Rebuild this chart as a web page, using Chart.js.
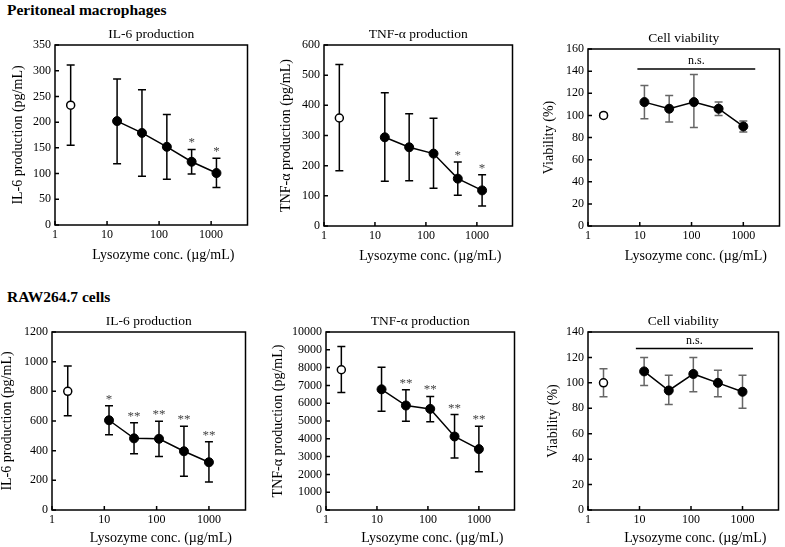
<!DOCTYPE html>
<html lang="en">
<head>
<meta charset="UTF-8">
<title>Lysozyme and cytokine production</title>
<script src="https://cdn.jsdelivr.net/npm/chart.js"></script>
<style>
  body { margin: 0; width: 785px; height: 547px; background: #fff; position: relative; overflow: hidden; }
  canvas { position: absolute; }
  .hdr { position: absolute; left: 7px; font: bold 15.5px "Liberation Serif", serif; color: #000; }
</style>
</head>
<body>
<div class="hdr" style="top:1px">Peritoneal macrophages</div>
<div class="hdr" style="top:288px">RAW264.7 cells</div>

<script>
// ---- data ----
const xTicks = [1, 10, 100, 1000];
const ctrlConc = 2;  // untreated control, open circle

// peritoneal macrophages
const pmConc = [15.6, 46.9, 141, 422, 1266];
const pmIl6Ctrl = [233, 155, 311];          // mean, low, high
const pmIl6Mean = [202, 179, 152, 123, 101];
const pmIl6Lo   = [119, 95, 89, 99, 73];
const pmIl6Hi   = [284, 263, 215, 147, 130];
const pmIl6Sig  = ['', '', '', '*', '*'];

const pmTnfCtrl = [358, 183, 535];
const pmTnfMean = [294, 261, 240, 157, 118];
const pmTnfLo   = [148, 150, 125, 102, 66];
const pmTnfHi   = [442, 372, 357, 212, 170];
const pmTnfSig  = ['', '', '', '*', '*'];

const viaConc = [12.3, 37, 111, 333, 1000];
const pmViaCtrl = [100, 98, 102];
const pmViaMean = [112, 106, 112, 106, 90];
const pmViaLo   = [97, 94, 89, 100, 85];
const pmViaHi   = [127, 118, 137, 112, 95];
const pmViaNs   = [9, 1700, 142];            // from, to, level

// RAW264.7
const rawConc = [12.3, 37, 111, 333, 1000];
const rawIl6Ctrl = [800, 635, 970];
const rawIl6Mean = [605, 483, 480, 396, 322];
const rawIl6Lo   = [508, 380, 360, 228, 188];
const rawIl6Hi   = [702, 588, 598, 565, 460];
const rawIl6Sig  = ['*', '**', '**', '**', '**'];

const rawTnfCtrl = [7880, 6600, 9180];
const rawTnfMean = [6780, 5870, 5680, 4130, 3420];
const rawTnfLo   = [5550, 4980, 4960, 2920, 2150];
const rawTnfHi   = [8020, 6760, 6380, 5360, 4700];
const rawTnfSig  = ['', '**', '**', '**', '**'];

const rawViaCtrl = [100, 89, 111];
const rawViaMean = [109, 94, 107, 100, 93];
const rawViaLo   = [98, 83, 93, 89, 80];
const rawViaHi   = [120, 106, 120, 110, 106];
const rawViaNs   = [8.5, 1600, 127];

const FONT = '"Liberation Serif", "Times New Roman", serif';
const YW = 60, PT = 40, XH = 40, PR = 4;

// titles, error bars, frame, inward ticks, asterisks, n.s. bar
const decor = {
  id: 'decor',
  beforeDatasetsDraw(chart, args, o) {
    const ctx = chart.ctx, ys = chart.scales.y;
    ctx.save();
    ctx.strokeStyle = o.barColor;
    ctx.lineWidth = 1.5;
    chart.data.datasets.forEach((ds, i) => {
      const pts = chart.getDatasetMeta(i).data;
      ds.lo.forEach((v, j) => {
        const x = pts[j].x, a = ys.getPixelForValue(v), b = ys.getPixelForValue(ds.hi[j]);
        ctx.beginPath();
        ctx.moveTo(x, a); ctx.lineTo(x, b);
        ctx.moveTo(x - 4, a); ctx.lineTo(x + 4, a);
        ctx.moveTo(x - 4, b); ctx.lineTo(x + 4, b);
        ctx.stroke();
      });
    });
    ctx.restore();
  },
  afterDraw(chart, args, o) {
    const ctx = chart.ctx, ca = chart.chartArea, xs = chart.scales.x, ys = chart.scales.y;
    const cx = (ca.left + ca.right) / 2;
    ctx.save();

    ctx.fillStyle = '#000';
    ctx.textAlign = 'center';
    ctx.textBaseline = 'middle';
    ctx.font = '13.5px ' + FONT;
    ctx.fillText(o.title, cx, ca.top - 11);
    ctx.font = '14px ' + FONT;
    ctx.fillText('Lysozyme conc. (\u00b5g/mL)', cx + 12, ca.bottom + o.xTitleDy);

    ctx.strokeStyle = '#000';
    ctx.lineWidth = 1.5;
    ctx.strokeRect(ca.left, ca.top, ca.right - ca.left, ca.bottom - ca.top);
    ctx.beginPath();
    ys.ticks.forEach(t => {
      const y = ys.getPixelForValue(t.value);
      ctx.moveTo(ca.left, y); ctx.lineTo(ca.left + 4, y);
    });
    xs.ticks.forEach(t => {
      const x = xs.getPixelForValue(t.value);
      ctx.moveTo(x, ca.bottom); ctx.lineTo(x, ca.bottom - 4);
    });
    ctx.stroke();

    const ds = chart.data.datasets[1];
    const pts = chart.getDatasetMeta(1).data;
    ctx.fillStyle = '#444';
    ctx.font = '13px ' + FONT;
    ctx.textBaseline = 'alphabetic';
    (ds.sig || []).forEach((s, j) => {
      if (s) ctx.fillText(s, pts[j].x, ys.getPixelForValue(ds.hi[j]) - 3);
    });

    if (o.ns) {
      const x1 = xs.getPixelForValue(o.ns[0]), x2 = xs.getPixelForValue(o.ns[1]);
      const y = ys.getPixelForValue(o.ns[2]);
      ctx.beginPath();
      ctx.moveTo(x1, y); ctx.lineTo(x2, y);
      ctx.stroke();
      ctx.fillStyle = '#000';
      ctx.font = '12px ' + FONT;
      ctx.fillText('n.s.', (x1 + x2) / 2, y - 5);
    }
    ctx.restore();
  }
};

function makePanel(area, p) {
  const cv = document.createElement('canvas');
  const bx = area.l - YW, by = area.t - PT;
  cv.width = area.r + PR - bx;
  cv.height = area.b + XH - by;
  cv.style.left = bx + 'px';
  cv.style.top = by + 'px';
  document.body.appendChild(cv);

  new Chart(cv, {
    type: 'scatter',
    data: {
      datasets: [
        {
          data: [{ x: ctrlConc, y: p.ctrl[0] }],
          lo: [p.ctrl[1]], hi: [p.ctrl[2]],
          pointRadius: 4, pointBorderWidth: 1.5,
          pointBackgroundColor: '#fff', pointBorderColor: '#000',
          showLine: false
        },
        {
          data: p.conc.map((c, i) => ({ x: c, y: p.mean[i] })),
          lo: p.lo, hi: p.hi, sig: p.sig,
          pointRadius: 4.5, pointBorderWidth: 1,
          pointBackgroundColor: '#000', pointBorderColor: '#000',
          showLine: true, borderColor: '#000', borderWidth: 1.5
        }
      ]
    },
    options: {
      responsive: false,
      animation: false,
      devicePixelRatio: 1,
      layout: { padding: { left: 0, top: PT, right: PR, bottom: 0 } },
      plugins: {
        legend: { display: false },
        tooltip: { enabled: false },
        title: { display: false },
        decor: { barColor: p.barColor || '#000', ns: p.ns, title: p.title, xTitleDy: p.xTitleDy }
      },
      scales: {
        x: {
          type: 'logarithmic', min: 1, max: 5000,
          afterBuildTicks: s => { s.ticks = xTicks.map(v => ({ value: v })); },
          afterFit: s => { s.height = XH; },
          grid: { display: false, drawTicks: false },
          border: { display: false },
          ticks: {
            color: '#000', padding: 3, autoSkip: false, maxRotation: 0,
            font: { family: FONT, size: 12 },
            callback: v => String(v)
          }
        },
        y: {
          min: 0, max: p.yMax,
          afterFit: s => { s.width = YW; },
          grid: { display: false, drawTicks: false },
          border: { display: false },
          ticks: {
            stepSize: p.yStep, color: '#000', padding: 4,
            font: { family: FONT, size: 12 },
            callback: v => String(v)
          },
          title: {
            display: true, text: p.yTitle, color: '#000',
            font: { family: FONT, size: 14, lineHeight: 1.2 },
            padding: { top: YW - p.yTitleOff - 8.4, bottom: 0 }
          }
        }
      }
    },
    plugins: [decor]
  });
}

makePanel({ l: 55, t: 45, r: 249, b: 225 }, {
  title: 'IL-6 production', yTitle: 'IL-6 production (pg/mL)', yMax: 350, yStep: 50, yTitleOff: 37, xTitleDy: 30,
  ctrl: pmIl6Ctrl, conc: pmConc, mean: pmIl6Mean, lo: pmIl6Lo, hi: pmIl6Hi, sig: pmIl6Sig
});
makePanel({ l: 324, t: 45, r: 514, b: 226 }, {
  title: 'TNF-\u03b1 production', yTitle: 'TNF-\u03b1 production (pg/mL)', yMax: 600, yStep: 100, yTitleOff: 38, xTitleDy: 30,
  ctrl: pmTnfCtrl, conc: pmConc, mean: pmTnfMean, lo: pmTnfLo, hi: pmTnfHi, sig: pmTnfSig
});
makePanel({ l: 588, t: 49, r: 781, b: 226 }, {
  title: 'Cell viability', yTitle: 'Viability (%)', yMax: 160, yStep: 20, yTitleOff: 39, xTitleDy: 30,
  ctrl: pmViaCtrl, conc: viaConc, mean: pmViaMean, lo: pmViaLo, hi: pmViaHi, ns: pmViaNs, barColor: '#666'
});
makePanel({ l: 52, t: 332, r: 247, b: 510 }, {
  title: 'IL-6 production', yTitle: 'IL-6 production (pg/mL)', yMax: 1200, yStep: 200, yTitleOff: 45, xTitleDy: 28,
  ctrl: rawIl6Ctrl, conc: rawConc, mean: rawIl6Mean, lo: rawIl6Lo, hi: rawIl6Hi, sig: rawIl6Sig
});
makePanel({ l: 326, t: 332, r: 516, b: 510 }, {
  title: 'TNF-\u03b1 production', yTitle: 'TNF-\u03b1 production (pg/mL)', yMax: 10000, yStep: 1000, yTitleOff: 48, xTitleDy: 28,
  ctrl: rawTnfCtrl, conc: rawConc, mean: rawTnfMean, lo: rawTnfLo, hi: rawTnfHi, sig: rawTnfSig
});
makePanel({ l: 588, t: 332, r: 780, b: 510 }, {
  title: 'Cell viability', yTitle: 'Viability (%)', yMax: 140, yStep: 20, yTitleOff: 35, xTitleDy: 28,
  ctrl: rawViaCtrl, conc: viaConc, mean: rawViaMean, lo: rawViaLo, hi: rawViaHi, ns: rawViaNs, barColor: '#666'
});
</script>
</body>
</html>
